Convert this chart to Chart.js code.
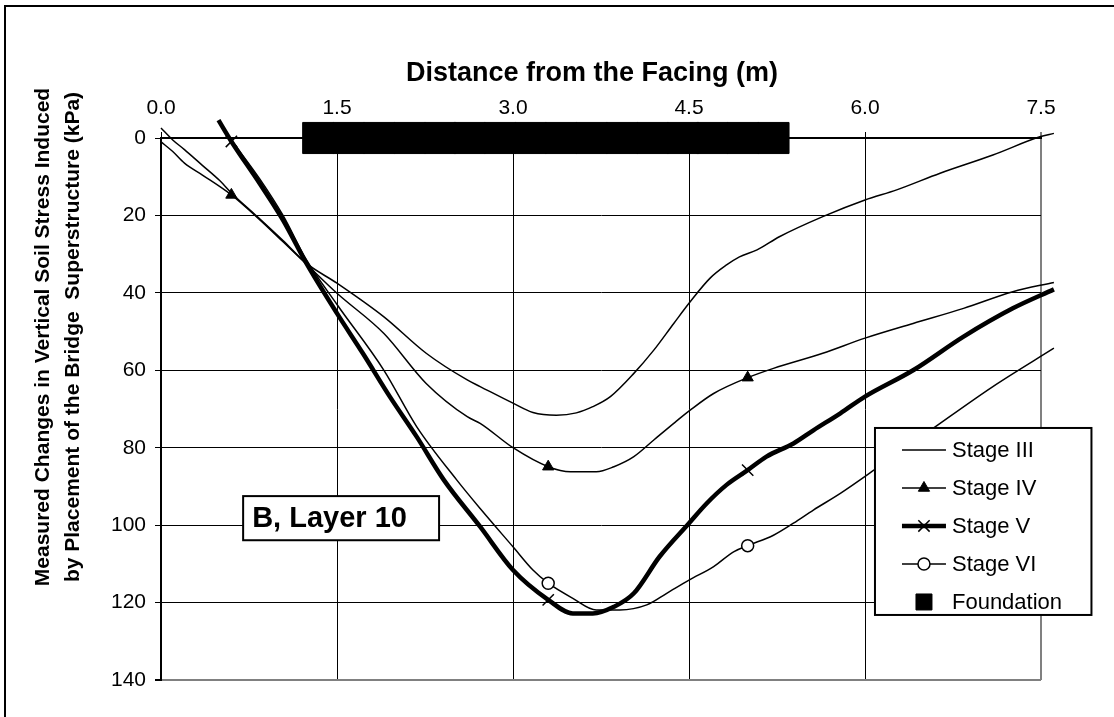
<!DOCTYPE html>
<html>
<head>
<meta charset="utf-8">
<script src="https://cdn.jsdelivr.net/npm/chart.js@4.4.0/dist/chart.umd.min.js"></script>
<style>
  html, body { margin: 0; padding: 0; background: #ffffff; }
  #wrap { position: relative; width: 1114px; height: 717px; }
</style>
</head>
<body>
<div id="wrap"><canvas id="c" width="1114" height="717"></canvas></div>
<script>
// ---------------- data ----------------
const xTickValues = [0, 1.5, 3.0, 4.5, 6.0, 7.5];
const xTickLabels = ['0.0', '1.5', '3.0', '4.5', '6.0', '7.5'];
const yTickValues = [0, 20, 40, 60, 80, 100, 120, 140];
const yTickLabels = ['0', '20', '40', '60', '80', '100', '120', '140'];

const seriesNames = ['Stage III', 'Stage IV', 'Stage V', 'Stage VI', 'Foundation'];

const stageIIIx = [0, 0.1, 0.2, 0.35, 0.5, 0.6, 0.82, 1.04, 1.24, 1.5, 1.9, 2.26, 2.61, 2.72, 3.0, 3.17, 3.37, 3.54, 3.68, 3.83, 4.03, 4.2, 4.37, 4.51, 4.68, 4.82, 4.93, 5.08, 5.27, 5.64, 6.0, 6.27, 6.64, 7.09, 7.49, 7.61];
const stageIIIy = [-2.6, 0.5, 3.0, 7.0, 11.0, 14.2, 20.3, 26.5, 32.4, 37.5, 46.2, 55.6, 62.5, 64.2, 68.5, 70.9, 71.6, 71.0, 69.4, 66.8, 60.8, 54.8, 47.9, 42.3, 36.2, 32.8, 30.7, 28.9, 25.5, 20.3, 16.0, 13.4, 9.1, 4.4, -0.3, -1.2];

const stageIVx = [0, 0.1, 0.2, 0.35, 0.6, 0.82, 1.04, 1.24, 1.5, 1.9, 2.26, 2.61, 2.72, 3.0, 3.3, 3.49, 3.71, 3.86, 4.03, 4.2, 4.37, 4.51, 4.71, 5.0, 5.22, 5.64, 6.0, 6.41, 6.84, 7.26, 7.61];
const stageIVy = [1.0, 3.5, 6.5, 9.5, 14.7, 20.5, 26.8, 32.6, 40.1, 50.5, 63.4, 72.0, 73.7, 80.0, 84.9, 86.2, 86.2, 84.9, 82.3, 78.0, 73.7, 70.3, 66.0, 61.9, 59.5, 55.6, 51.7, 47.9, 44.0, 39.7, 37.3];

const stageVx = [0.49, 0.6, 0.84, 1.04, 1.24, 1.5, 1.72, 1.95, 2.18, 2.41, 2.72, 3.0, 3.3, 3.51, 3.68, 3.86, 4.03, 4.25, 4.5, 4.65, 4.82, 5.0, 5.16, 5.39, 5.56, 5.79, 6.0, 6.41, 6.84, 7.26, 7.61];
const stageVy = [-4.6, 0.9, 11.7, 21.2, 32.4, 45.3, 55.6, 66.8, 77.2, 88.3, 100.4, 111.6, 119.3, 122.8, 122.8, 121.1, 117.6, 108.1, 99.5, 94.4, 89.6, 85.8, 82.3, 78.9, 75.5, 71.1, 66.8, 60.0, 51.3, 44.0, 39.1];

const stageVIx = [0.52, 0.6, 0.84, 1.04, 1.24, 1.5, 1.9, 2.18, 2.52, 2.72, 3.0, 3.17, 3.3, 3.51, 3.71, 3.91, 4.14, 4.31, 4.5, 4.71, 4.88, 5.0, 5.22, 5.39, 5.56, 5.79, 6.1, 6.58, 7.09, 7.61];
const stageVIy = [-3.0, 0.5, 10.5, 20.0, 31.5, 43.0, 60.0, 74.6, 88.3, 95.7, 105.6, 111.6, 115.0, 118.9, 121.9, 121.9, 120.6, 117.6, 114.2, 110.7, 106.9, 105.3, 102.6, 99.5, 96.1, 91.8, 85.3, 75.0, 64.2, 54.3];

// x positions where a series shows its marker
const markersIV = [0.6, 3.3, 5.0];
const markersV = [0.6, 3.3, 5.0];
const markersVI = [3.3, 5.0];

const foundationX = [1.34, 1.6, 1.86, 2.12, 2.38, 2.63, 2.89, 3.15, 3.41, 3.67, 3.93, 4.19, 4.45, 4.7, 4.96, 5.22];
const foundationY = [0, 0, 0, 0, 0, 0, 0, 0, 0, 0, 0, 0, 0, 0, 0, 0];

const xTitle = 'Distance from the Facing (m)';
const yTitle = ['Measured Changes in Vertical Soil Stress Induced', 'by Placement of the Bridge  Superstructure (kPa)'];
const noteText = 'B, Layer 10';

// ---------------- helpers ----------------
const FONT = '"Liberation Sans", Arial, Helvetica, sans-serif';
function pts(xs, ys) { return xs.map((x, i) => ({ x: x, y: ys[i] })); }
function markerAt(list, r) {
  return (ctx) => (ctx.raw && list.indexOf(ctx.raw.x) !== -1) ? r : 0;
}

function drawMarker(ctx, style, x, y, r, fill, stroke, lw) {
  ctx.save();
  ctx.lineWidth = lw;
  ctx.strokeStyle = stroke;
  ctx.fillStyle = fill;
  ctx.beginPath();
  if (style === 'triangle') {
    ctx.moveTo(x, y - r);
    ctx.lineTo(x + r * 0.866, y + r * 0.5);
    ctx.lineTo(x - r * 0.866, y + r * 0.5);
    ctx.closePath();
    ctx.fill(); ctx.stroke();
  } else if (style === 'crossRot') {
    const d = r * 0.7071;
    ctx.moveTo(x - d, y - d); ctx.lineTo(x + d, y + d);
    ctx.moveTo(x + d, y - d); ctx.lineTo(x - d, y + d);
    ctx.stroke();
  } else if (style === 'circle') {
    ctx.arc(x, y, r, 0, Math.PI * 2);
    ctx.fill(); ctx.stroke();
  } else if (style === 'rect') {
    ctx.rect(x - r, y - r, 2 * r, 2 * r);
    ctx.fill(); ctx.stroke();
  }
  ctx.restore();
}

const decor = {
  id: 'decor',
  beforeDraw(chart) {
    const ctx = chart.ctx;
    ctx.save();
    ctx.fillStyle = '#ffffff';
    ctx.fillRect(0, 0, chart.width, chart.height);
    ctx.strokeStyle = '#000000';
    ctx.lineWidth = 2;
    ctx.beginPath();
    ctx.moveTo(5, chart.height);
    ctx.lineTo(5, 6);
    ctx.lineTo(chart.width, 6);
    ctx.stroke();
    ctx.restore();
  },
  afterDraw(chart) {
    const ctx = chart.ctx;
    const area = chart.chartArea;
    const xs = chart.scales.x, ys = chart.scales.y;
    ctx.save();
    ctx.fillStyle = '#000000';
    // x title
    ctx.font = 'bold 27px ' + FONT;
    ctx.textAlign = 'center';
    ctx.textBaseline = 'middle';
    ctx.fillText(xTitle, area.left + 431, 74);
    // y title
    ctx.save();
    ctx.translate(0, 337);
    ctx.rotate(-Math.PI / 2);
    ctx.font = 'bold 21px ' + FONT;
    ctx.fillText(yTitle[0], 0, 43);
    ctx.fillText(yTitle[1], 0, 73);
    ctx.restore();

    // note box
    const nx0 = xs.getPixelForValue(0.70), nx1 = xs.getPixelForValue(2.37);
    const ny0 = ys.getPixelForValue(92.5), ny1 = ys.getPixelForValue(103.9);
    ctx.fillStyle = '#ffffff';
    ctx.fillRect(nx0, ny0, nx1 - nx0, ny1 - ny0);
    ctx.strokeStyle = '#000000';
    ctx.lineWidth = 2;
    ctx.strokeRect(nx0, ny0, nx1 - nx0, ny1 - ny0);
    ctx.fillStyle = '#000000';
    ctx.font = 'bold 29px ' + FONT;
    ctx.textAlign = 'left';
    ctx.fillText(noteText, nx0 + 9, (ny0 + ny1) / 2 + 1);

    // legend box
    const lx0 = xs.getPixelForValue(6.085), lx1 = xs.getPixelForValue(7.93);
    const ly0 = ys.getPixelForValue(74.9), ly1 = ys.getPixelForValue(123.2);
    ctx.fillStyle = '#ffffff';
    ctx.fillRect(lx0, ly0, lx1 - lx0, ly1 - ly0);
    ctx.strokeRect(lx0, ly0, lx1 - lx0, ly1 - ly0);
    ctx.font = '22px ' + FONT;
    chart.data.datasets.forEach((ds, i) => {
      const cy = ly0 + 22 + i * 38;
      const sx0 = lx0 + 27, sx1 = lx0 + 71, cx = (sx0 + sx1) / 2;
      if (ds.showLine) {
        ctx.save();
        ctx.strokeStyle = ds.borderColor;
        ctx.lineWidth = ds.borderWidth;
        ctx.beginPath();
        ctx.moveTo(sx0, cy); ctx.lineTo(sx1, cy);
        ctx.stroke();
        ctx.restore();
      }
      if (ds.legendMarker) {
        const m = ds.legendMarker;
        drawMarker(ctx, ds.pointStyle, cx, cy, m, ds.pointBackgroundColor, ds.pointBorderColor, ds.pointBorderWidth);
      }
      ctx.fillStyle = '#000000';
      ctx.textAlign = 'left';
      ctx.fillText(ds.label, lx0 + 77, cy + 1);
    });
    ctx.restore();
  }
};

const lineBase = {
  showLine: true,
  borderColor: '#000000',
  borderWidth: 1.5,
  cubicInterpolationMode: 'monotone',
  clip: false,
  pointHitRadius: 0,
  pointHoverRadius: 0
};

const data = {
  datasets: [
    Object.assign({}, lineBase, {
      label: seriesNames[0], data: pts(stageIIIx, stageIIIy),
      pointRadius: 0, pointStyle: 'circle', legendMarker: 0
    }),
    Object.assign({}, lineBase, {
      label: seriesNames[1], data: pts(stageIVx, stageIVy),
      pointStyle: 'triangle', pointRadius: markerAt(markersIV, 6.5),
      pointBackgroundColor: '#000000', pointBorderColor: '#000000', pointBorderWidth: 1,
      legendMarker: 6.5
    }),
    Object.assign({}, lineBase, {
      label: seriesNames[2], data: pts(stageVx, stageVy), borderWidth: 4.5,
      pointStyle: 'crossRot', pointRadius: markerAt(markersV, 8),
      pointBackgroundColor: '#000000', pointBorderColor: '#000000', pointBorderWidth: 1.5,
      legendMarker: 8
    }),
    Object.assign({}, lineBase, {
      label: seriesNames[3], data: pts(stageVIx, stageVIy),
      pointStyle: 'circle', pointRadius: markerAt(markersVI, 6),
      pointBackgroundColor: '#ffffff', pointBorderColor: '#000000', pointBorderWidth: 1.5,
      legendMarker: 6
    }),
    {
      label: seriesNames[4], data: pts(foundationX, foundationY),
      showLine: false, clip: false,
      pointStyle: 'rect', pointRadius: 22, pointHoverRadius: 22, pointHitRadius: 0,
      pointBackgroundColor: '#000000', pointBorderColor: '#000000', pointBorderWidth: 1,
      borderColor: '#000000', borderWidth: 0,
      legendMarker: 8
    }
  ]
};

const grayIf = (edge) => (ctx) => (ctx.tick && ctx.tick.value === edge) ? '#808080' : '#000000';
const widthIf = (edge) => (ctx) => (ctx.tick && ctx.tick.value === edge) ? 2 : 1;

new Chart(document.getElementById('c'), {
  type: 'scatter',
  data: data,
  plugins: [decor],
  options: {
    responsive: false,
    animation: false,
    devicePixelRatio: 1,
    events: [],
    layout: { padding: { left: 0, top: 0, right: 73, bottom: 37 } },
    plugins: { legend: { display: false }, tooltip: { enabled: false } },
    scales: {
      x: {
        type: 'linear', position: 'top', min: 0, max: 7.5,
        afterBuildTicks: (s) => { s.ticks = xTickValues.map(v => ({ value: v })); },
        afterFit: (s) => { s.height = 138; s.paddingLeft = 0; s.paddingRight = 0; },
        ticks: {
          autoSkip: false, maxRotation: 0, padding: 11, color: '#000000',
          font: { family: FONT, size: 21 },
          callback: (v) => xTickLabels[xTickValues.indexOf(v)]
        },
        grid: {
          color: grayIf(7.5), tickColor: grayIf(7.5), lineWidth: widthIf(7.5), tickLength: 6
        },
        border: { color: '#000000', width: 2 }
      },
      y: {
        type: 'linear', position: 'left', min: 0, max: 140, reverse: true,
        afterBuildTicks: (s) => { s.ticks = yTickValues.map(v => ({ value: v })); },
        afterFit: (s) => { s.width = 161; s.paddingTop = 0; s.paddingBottom = 0; },
        ticks: {
          autoSkip: false, padding: 9, color: '#000000',
          font: { family: FONT, size: 21 },
          callback: (v) => yTickLabels[yTickValues.indexOf(v)]
        },
        grid: {
          color: grayIf(140), tickColor: '#000000', lineWidth: widthIf(140), tickLength: 6
        },
        border: { color: '#000000', width: 2 }
      }
    }
  }
});
</script>
</body>
</html>
